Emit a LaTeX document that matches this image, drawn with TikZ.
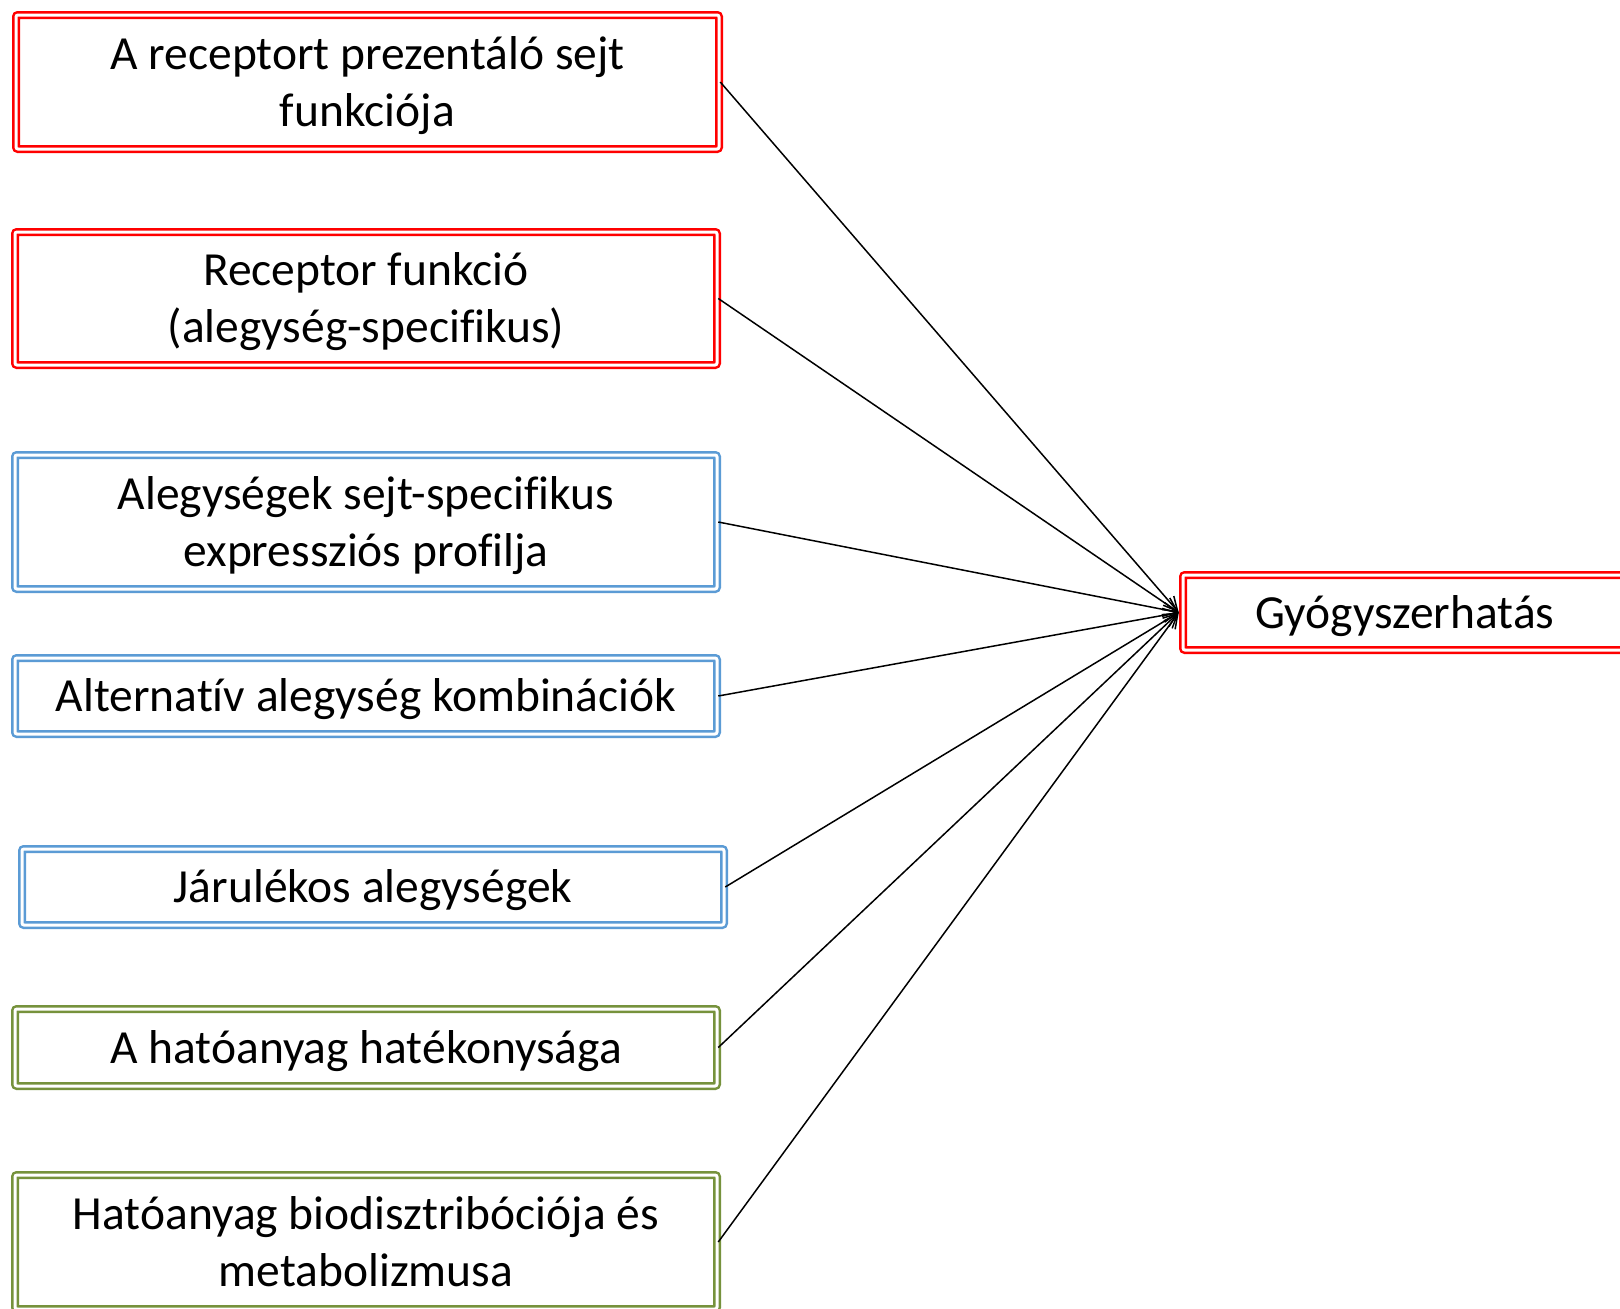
\documentclass[tikz,border=0pt]{standalone}
\usepackage{fontspec}
\setmainfont[Ligatures={NoCommon}]{Carlito}
\usetikzlibrary{arrows.meta}
\definecolor{boxred}{RGB}{255,0,0}
\definecolor{boxblue}{RGB}{91,155,213}
\definecolor{boxgreen}{RGB}{118,146,60}
\newcommand\bxtext[1]{\raisebox{0pt}[\dimexpr\height+9pt\relax][\depth]{\begin{tabular}{@{}c@{}}#1\end{tabular}}}
\tikzset{
  box/.style={draw=#1, double=white, line width=2.5pt, double distance=3pt,
    rounded corners=2pt, rectangle, inner sep=0pt,
    font=\fontsize{47.5}{57}\selectfont, text=black},
  conn/.style={black, line width=1.5pt, -{Straight Barb[length=14pt,width=14pt]}}
}
\begin{document}
\begin{tikzpicture}[x=1pt,y=-1pt]
\useasboundingbox (0,0) rectangle (1620,1309);
\clip (0,0) rectangle (1620,1309);
\fill[white] (0,0) rectangle (1620,1309);
\node[box=boxred, minimum width=703pt, minimum height=134pt] (b1) at (367.5,82) {\bxtext{A receptort prezentáló sejt\\funkciója}};
\node[box=boxred, minimum width=702pt, minimum height=133pt] (b2) at (366,298.5) {\bxtext{Receptor funkció\\(alegység-specifikus)}};
\node[box=boxblue, minimum width=702pt, minimum height=134pt] (b3) at (366,522) {\bxtext{Alegységek sejt-specifikus\\expressziós profilja}};
\node[box=boxblue, minimum width=702pt, minimum height=76pt] (b4) at (366,696) {\bxtext{Alternatív alegység kombinációk}};
\node[box=boxblue, minimum width=702pt, minimum height=76pt] (b5) at (373,887) {\bxtext{Járulékos alegységek}};
\node[box=boxgreen, minimum width=702pt, minimum height=77pt] (b6) at (366,1047.5) {\bxtext{A hatóanyag hatékonysága}};
\node[box=boxgreen, minimum width=702pt, minimum height=134pt] (b7) at (366,1242) {\bxtext{Hatóanyag biodisztribóciója és\\metabolizmusa}};
\node[box=boxred, minimum width=444pt, minimum height=75pt] (t) at (1405,612.5) {\bxtext{Gyógyszerhatás}};
\foreach \b in {b1,b2,b3,b4,b5,b6,b7}
  \draw[conn] (\b.east) -- ([xshift=-3pt]t.west);
\end{tikzpicture}
\end{document}
